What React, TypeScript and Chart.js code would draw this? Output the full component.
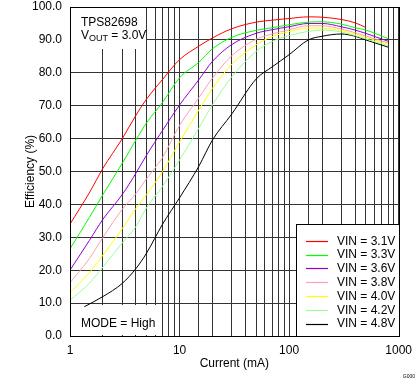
import React, { useEffect, useRef } from "react";
import { Chart, registerables } from "chart.js";
Chart.register(...registerables);

const FONT = "'Liberation Sans', Arial, sans-serif";

// Output current (mA)
const currents = [1, 1.5, 2, 3, 4, 5, 7, 10, 15, 20, 30, 50, 70, 100, 150, 200, 300, 400, 500, 800];
const currentsVin48 = [1.35, 2, 3, 4, 5, 7, 10, 15, 20, 30, 50, 70, 100, 150, 200, 300, 400, 500, 800];

// Efficiency (%)
const effVin31 = [34, 43.5, 51, 60, 67.1, 72, 78, 84, 88.1, 90.6, 93.4, 95.4, 96, 96.5, 97, 96.9, 96.2, 95.2, 93.8, null];
const effVin33 = [26.5, 36, 43, 52.5, 59.6, 64.8, 71, 78.5, 83.2, 87.3, 90.8, 92.9, 93.7, 94.6, 95.4, 95.5, 94.8, 93.7, 93, 90.4];
const effVin36 = [20, 29, 35.5, 43, 49.5, 55, 62.5, 70.2, 77.9, 83.5, 88.6, 92, 93.1, 94, 95, 95, 94, 93, 92, 89.6];
const effVin38 = [16.2, 23.5, 30, 38.5, 43.3, 47.8, 54.3, 64, 72.4, 78.4, 85.2, 90.2, 91.8, 93.1, 94.3, 94.3, 93.3, 92.2, 91.2, 89.1];
const effVin40 = [13.2, 19.2, 24.6, 32.6, 38.8, 43, 50, 59, 68.7, 75.3, 82.6, 88.5, 91, 92.5, 93.6, 93.6, 92.8, 91.8, 90.8, 88.7];
const effVin42 = [10.9, 16, 21, 28.3, 33.3, 39, 45.5, 53.5, 63.2, 70.3, 78.8, 86.5, 89.5, 91.3, 92.6, 93, 92.4, 91.3, 90.3, 88.3];
const effVin48 = [8.9, 12, 16, 20.5, 25.2, 34, 42, 51.6, 59.6, 67.5, 78.1, 81.8, 85.5, 90, 91.1, 91.8, 91.1, 90, 87.8];

const seriesLabels = ["VIN = 3.1V", "VIN = 3.3V", "VIN = 3.6V", "VIN = 3.8V", "VIN = 4.0V", "VIN = 4.2V", "VIN = 4.8V"];
const seriesColors = ["#ff0000", "#00ff00", "#9400d3", "#ffa0b0", "#ffff00", "#99ff99", "#000000"];
const seriesX = [currents, currents, currents, currents, currents, currents, currentsVin48];
const seriesY = [effVin31, effVin33, effVin36, effVin38, effVin40, effVin42, effVin48];

const xMajorTicks = [1, 10, 100, 1000];

function toPoints(xs: number[], ys: (number | null)[]) {
  return xs
    .map((x, i) => ({ x, y: ys[i] }))
    .filter((p) => p.y !== null && p.y !== undefined);
}

export default function App() {
  const ref = useRef<HTMLCanvasElement>(null);

  useEffect(() => {
    const canvas = ref.current;
    if (!canvas) return;

    const overlay = {
      id: "overlay",
      beforeDatasetsDraw(chart: any) {
        const ctx = chart.ctx;
        const a = chart.chartArea;
        ctx.save();
        ctx.fillStyle = "#ffffff";
        // title box (top-left)
        ctx.fillRect(a.left + 1, a.top + 1, 75, 41);
        // mode box (bottom-left)
        ctx.fillRect(a.left + 1, a.bottom - 31, 89, 30);
        ctx.restore();
      },
      afterDatasetsDraw(chart: any) {
        const ctx = chart.ctx;
        const a = chart.chartArea;
        ctx.save();
        // frame
        ctx.strokeStyle = "#000";
        ctx.lineWidth = 1;
        ctx.strokeRect(Math.round(a.left) + 0.5, Math.round(a.top) + 0.5, Math.round(a.right - a.left), Math.round(a.bottom - a.top));

        // annotations
        ctx.fillStyle = "#000";
        ctx.textBaseline = "middle";
        ctx.textAlign = "left";
        ctx.font = `12px ${FONT}`;
        const tx = a.left + 11;
        ctx.fillText("TPS82698", tx, a.top + 16);
        ctx.fillText("V", tx, a.top + 29);
        const vw = ctx.measureText("V").width;
        ctx.font = `9px ${FONT}`;
        ctx.fillText("OUT", tx + vw, a.top + 32);
        const ow = ctx.measureText("OUT").width;
        ctx.font = `12px ${FONT}`;
        ctx.fillText(" = 3.0V", tx + vw + ow, a.top + 29);
        ctx.fillText("MODE = High", tx, a.bottom - 12);

        // legend
        const lw = 103;
        const lh = 112;
        const lx = Math.round(a.right) - lw;
        const ly = Math.round(a.bottom) - lh;
        ctx.fillStyle = "#fff";
        ctx.fillRect(lx, ly, lw, lh);
        ctx.strokeStyle = "#000";
        ctx.lineWidth = 1;
        ctx.strokeRect(lx + 0.5, ly + 0.5, lw, lh);
        chart.data.datasets.forEach((ds: any, i: number) => {
          const y = ly + 16.7 + i * 13.8;
          ctx.strokeStyle = ds.borderColor;
          ctx.lineWidth = 1.2;
          ctx.beginPath();
          ctx.moveTo(lx + 10, Math.round(y) + 0.5);
          ctx.lineTo(lx + 32, Math.round(y) + 0.5);
          ctx.stroke();
          ctx.fillStyle = "#000";
          ctx.font = `12px ${FONT}`;
          ctx.fillText(ds.label, lx + 41, y + 0.5);
        });
        ctx.restore();
      },
      afterDraw(chart: any) {
        const ctx = chart.ctx;
        ctx.save();
        ctx.fillStyle = "#000";
        ctx.font = `5px ${FONT}`;
        ctx.textAlign = "right";
        ctx.textBaseline = "middle";
        ctx.fillText("G000", chart.width - 4, chart.height - 5);
        ctx.restore();
      },
    };

    const chart = new Chart(canvas, {
      type: "line",
      data: {
        datasets: seriesLabels.map((label, i) => ({
          label,
          data: toPoints(seriesX[i], seriesY[i]),
          borderColor: seriesColors[i],
          backgroundColor: seriesColors[i],
          borderWidth: 1,
          pointRadius: 0,
          cubicInterpolationMode: "monotone" as const,
          fill: false,
        })),
      },
      options: {
        animation: false,
        responsive: false,
        maintainAspectRatio: false,
        layout: { padding: { left: 0, right: 19, top: 7, bottom: 0 } },
        plugins: {
          legend: { display: false },
          tooltip: { enabled: false },
        },
        scales: {
          x: {
            type: "logarithmic",
            min: 1,
            max: 1000,
            afterFit(s: any) {
              s.height = 46;
            },
            grid: { color: "#333", lineWidth: 1, drawTicks: false },
            border: { display: true, color: "#000", width: 1 },
            ticks: {
              autoSkip: false,
              maxRotation: 0,
              padding: 7,
              color: "#000",
              font: { family: FONT, size: 12 },
              callback: (v: any) => (xMajorTicks.includes(Number(v)) ? String(v) : ""),
            },
            title: {
              display: true,
              text: "Current (mA)",
              color: "#000",
              font: { family: FONT, size: 12 },
              padding: { top: 0, bottom: 11 },
            },
          },
          y: {
            type: "linear",
            min: 0,
            max: 100,
            afterFit(s: any) {
              s.width = 70;
              s.paddingTop = 0;
              s.paddingBottom = 0;
            },
            grid: { color: "#333", lineWidth: 1, drawTicks: false },
            border: { display: true, color: "#000", width: 1 },
            ticks: {
              stepSize: 10,
              padding: 8,
              color: "#000",
              font: { family: FONT, size: 12 },
              callback: (v: any) => Number(v).toFixed(1),
            },
            title: {
              display: true,
              text: "Efficiency (%)",
              color: "#000",
              font: { family: FONT, size: 12 },
              padding: { top: 23, bottom: 0 },
            },
          },
        },
      },
      plugins: [overlay],
    });

    return () => chart.destroy();
  }, []);

  return (
    <div style={{ position: "fixed", left: 0, top: 0, width: 419, height: 382, background: "#fff" }}>
      <canvas ref={ref} width={419} height={382} style={{ width: 419, height: 382, display: "block" }} />
    </div>
  );
}
